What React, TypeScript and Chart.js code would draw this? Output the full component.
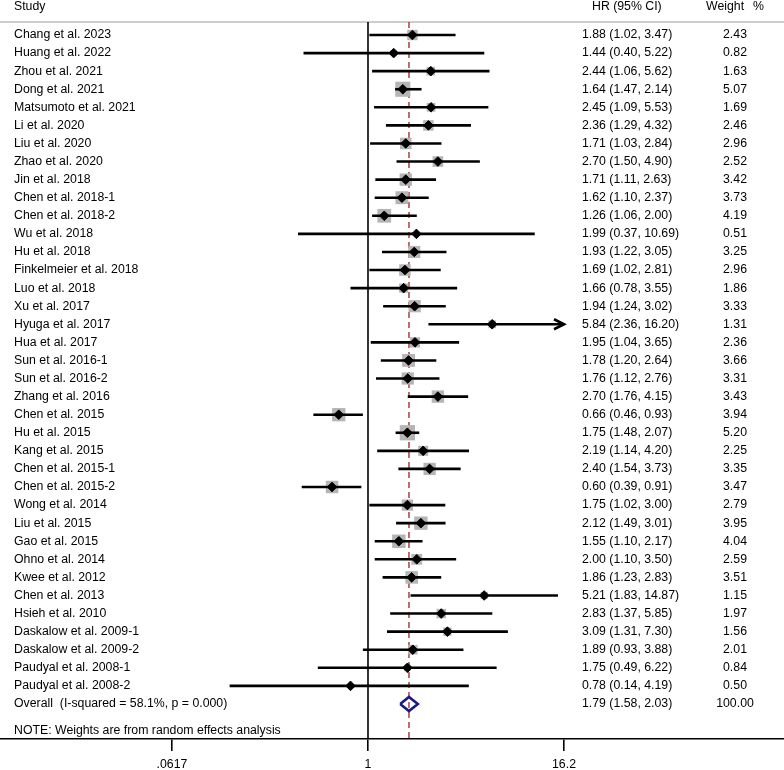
import React, { useEffect, useRef } from 'react';
import { Chart, registerables } from 'chart.js';

Chart.register(...registerables);

const studies = [
  'Chang et al. 2023', 'Huang et al. 2022', 'Zhou et al. 2021', 'Dong et al. 2021',
  'Matsumoto et al. 2021', 'Li et al. 2020', 'Liu et al. 2020', 'Zhao et al. 2020',
  'Jin et al. 2018', 'Chen et al. 2018-1', 'Chen et al. 2018-2', 'Wu et al. 2018',
  'Hu et al. 2018', 'Finkelmeier et al. 2018', 'Luo et al. 2018', 'Xu et al. 2017',
  'Hyuga et al. 2017', 'Hua et al. 2017', 'Sun et al. 2016-1', 'Sun et al. 2016-2',
  'Zhang et al. 2016', 'Chen et al. 2015', 'Hu et al. 2015', 'Kang et al. 2015',
  'Chen et al. 2015-1', 'Chen et al. 2015-2', 'Wong et al. 2014', 'Liu et al. 2015',
  'Gao et al. 2015', 'Ohno et al. 2014', 'Kwee et al. 2012', 'Chen et al. 2013',
  'Hsieh et al. 2010', 'Daskalow et al. 2009-1', 'Daskalow et al. 2009-2',
  'Paudyal et al. 2008-1', 'Paudyal et al. 2008-2',
];

const hr = [1.88, 1.44, 2.44, 1.64, 2.45, 2.36, 1.71, 2.70, 1.71, 1.62, 1.26, 1.99, 1.93, 1.69, 1.66, 1.94, 5.84, 1.95, 1.78, 1.76, 2.70, 0.66, 1.75, 2.19, 2.40, 0.60, 1.75, 2.12, 1.55, 2.00, 1.86, 5.21, 2.83, 3.09, 1.89, 1.75, 0.78];
const lower = [1.02, 0.40, 1.06, 1.47, 1.09, 1.29, 1.03, 1.50, 1.11, 1.10, 1.06, 0.37, 1.22, 1.02, 0.78, 1.24, 2.36, 1.04, 1.20, 1.12, 1.76, 0.46, 1.48, 1.14, 1.54, 0.39, 1.02, 1.49, 1.10, 1.10, 1.23, 1.83, 1.37, 1.31, 0.93, 0.49, 0.14];
const upper = [3.47, 5.22, 5.62, 2.14, 5.53, 4.32, 2.84, 4.90, 2.63, 2.37, 2.00, 10.69, 3.05, 2.81, 3.55, 3.02, 16.20, 3.65, 2.64, 2.76, 4.15, 0.93, 2.07, 4.20, 3.73, 0.91, 3.00, 3.01, 2.17, 3.50, 2.83, 14.87, 5.85, 7.30, 3.88, 6.22, 4.19];
const weights = [2.43, 0.82, 1.63, 5.07, 1.69, 2.46, 2.96, 2.52, 3.42, 3.73, 4.19, 0.51, 3.25, 2.96, 1.86, 3.33, 1.31, 2.36, 3.66, 3.31, 3.43, 3.94, 5.20, 2.25, 3.35, 3.47, 2.79, 3.95, 4.04, 2.59, 3.51, 1.15, 1.97, 1.56, 2.01, 0.84, 0.50];

const overallLabel = 'Overall  (I-squared = 58.1%, p = 0.000)';
const overallHR = 1.79;
const overallLower = 1.58;
const overallUpper = 2.03;
const overallWeight = '100.00';

const xTicks = [0.0617, 1, 16.2];
const xTickLabels = ['.0617', '1', '16.2'];

const noteText = 'NOTE: Weights are from random effects analysis';

const FONT = '"Liberation Sans", Arial, Helvetica, sans-serif';
const FS = 12.3;

const fmt = (v: number) => v.toFixed(2);

export default function App() {
  const ref = useRef<HTMLCanvasElement | null>(null);

  useEffect(() => {
    const canvas = ref.current;
    if (!canvas) return;
    const n = studies.length;
    const overallRow = n;
    const xMax = xTicks[xTicks.length - 1];

    const ciDatasets = studies.map((_, i) => ({
      type: 'scatter' as const,
      data: [
        { x: lower[i], y: i },
        { x: Math.min(upper[i], xMax), y: i },
      ],
      showLine: true,
      borderColor: '#000',
      borderWidth: 2.6,
      pointRadius: 0,
      order: 2,
    }));

    const squares = {
      type: 'scatter' as const,
      data: studies.map((_, i) => ({ x: hr[i], y: i })),
      pointStyle: 'rect' as const,
      pointRadius: weights.map((w) => (6.7 * Math.sqrt(w)) / Math.SQRT2),
      backgroundColor: '#b5b5b5',
      borderWidth: 0,
      order: 3,
    };

    const points = {
      type: 'scatter' as const,
      data: studies.map((_, i) => ({ x: hr[i], y: i })),
      pointStyle: 'rectRot' as const,
      pointRadius: 4.8,
      backgroundColor: '#000',
      borderColor: '#000',
      borderWidth: 1,
      order: 1,
    };

    const dh = 0.39;
    const overall = {
      type: 'scatter' as const,
      data: [
        { x: overallLower, y: overallRow },
        { x: overallHR, y: overallRow - dh },
        { x: overallUpper, y: overallRow },
        { x: overallHR, y: overallRow + dh },
        { x: overallLower, y: overallRow },
      ],
      showLine: true,
      borderColor: '#1a1a85',
      borderWidth: 2.6,
      pointRadius: 0,
      order: 0,
    };

    const textPlugin = {
      id: 'forestText',
      beforeDatasetsDraw(chart: any) {
        const ctx = chart.ctx;
        const xs = chart.scales.x;
        const ys = chart.scales.y;
        const yTop = ys.getPixelForValue(-0.72);
        const yBot = chart.chartArea.bottom;
        ctx.save();
        // header line
        ctx.strokeStyle = '#bdbdbd';
        ctx.lineWidth = 1.3;
        ctx.beginPath();
        ctx.moveTo(0, yTop);
        ctx.lineTo(chart.width, yTop);
        ctx.stroke();
        // null line
        const x1 = xs.getPixelForValue(1);
        ctx.strokeStyle = '#000';
        ctx.lineWidth = 1.6;
        ctx.beginPath();
        ctx.moveTo(x1, yTop);
        ctx.lineTo(x1, yBot);
        ctx.stroke();
        // overall dashed line
        const xo = xs.getPixelForValue(overallHR);
        ctx.strokeStyle = '#a83232';
        ctx.lineWidth = 1.4;
        ctx.setLineDash([6, 4]);
        ctx.beginPath();
        ctx.moveTo(xo, yTop);
        ctx.lineTo(xo, yBot);
        ctx.stroke();
        ctx.setLineDash([]);
        ctx.restore();
      },
      afterDatasetsDraw(chart: any) {
        const ctx = chart.ctx;
        const xs = chart.scales.x;
        const ys = chart.scales.y;
        const xMaxPx = xs.getPixelForValue(xMax);
        ctx.save();
        // arrows for truncated CIs
        ctx.strokeStyle = '#000';
        ctx.lineWidth = 2.6;
        studies.forEach((_, i) => {
          if (upper[i] >= xMax) {
            const y = ys.getPixelForValue(i);
            ctx.beginPath();
            ctx.moveTo(xMaxPx - 10, y - 5);
            ctx.lineTo(xMaxPx, y);
            ctx.lineTo(xMaxPx - 10, y + 5);
            ctx.stroke();
          }
        });
        ctx.fillStyle = '#000';
        ctx.font = `${FS}px ${FONT}`;
        ctx.textBaseline = 'middle';
        const hy = ys.getPixelForValue(-1.55);
        ctx.textAlign = 'left';
        ctx.fillText('Study', 14, hy);
        ctx.fillText('HR (95% CI)', 592, hy);
        ctx.fillText('Weight', 706, hy);
        ctx.fillText('%', 753, hy);
        studies.forEach((s, i) => {
          const y = ys.getPixelForValue(i);
          ctx.textAlign = 'left';
          ctx.fillText(s, 14, y);
          ctx.fillText(`${fmt(hr[i])} (${fmt(lower[i])}, ${fmt(upper[i])})`, 582, y);
          ctx.textAlign = 'center';
          ctx.fillText(fmt(weights[i]), 735, y);
        });
        const oy = ys.getPixelForValue(overallRow);
        ctx.textAlign = 'left';
        ctx.fillText(overallLabel, 14, oy);
        ctx.fillText(`${fmt(overallHR)} (${fmt(overallLower)}, ${fmt(overallUpper)})`, 582, oy);
        ctx.textAlign = 'center';
        ctx.fillText(overallWeight, 735, oy);
        ctx.textAlign = 'left';
        ctx.fillText(noteText, 14, ys.getPixelForValue(38.5));
        ctx.restore();
      },
    };

    const chart = new Chart(canvas, {
      type: 'scatter',
      data: { datasets: [overall, points, ...ciDatasets, squares] as any },
      options: {
        animation: false,
        responsive: false,
        devicePixelRatio: 1,
        layout: { padding: 0, autoPadding: false },
        plugins: { legend: { display: false }, tooltip: { enabled: false } },
        scales: {
          x: {
            type: 'logarithmic',
            min: 0.005359,
            max: 369.1,
            bounds: 'data',
            afterBuildTicks: (scale: any) => {
              scale.ticks = xTicks.map((v) => ({ value: v }));
            },
            afterFit: (scale: any) => {
              scale.height = 31;
            },
            grid: {
              drawOnChartArea: false,
              drawTicks: true,
              tickLength: 12,
              color: '#000',
              lineWidth: 1.6,
            },
            border: { display: true, color: '#000', width: 1.6 },
            ticks: {
              autoSkip: false,
              maxRotation: 0,
              padding: 6,
              color: '#000',
              font: { family: FONT, size: FS },
              callback: (_v: any, idx: number) => xTickLabels[idx],
            },
          },
          y: {
            type: 'linear',
            display: false,
            reverse: true,
            min: -1.9358,
            max: 38.938,
          },
        },
      } as any,
      plugins: [textPlugin],
    });

    return () => chart.destroy();
  }, []);

  return (
    <div style={{ position: 'absolute', left: 0, top: 0, width: 784, height: 770, background: '#fff' }}>
      <canvas ref={ref} width={784} height={770} style={{ display: 'block' }} />
    </div>
  );
}
